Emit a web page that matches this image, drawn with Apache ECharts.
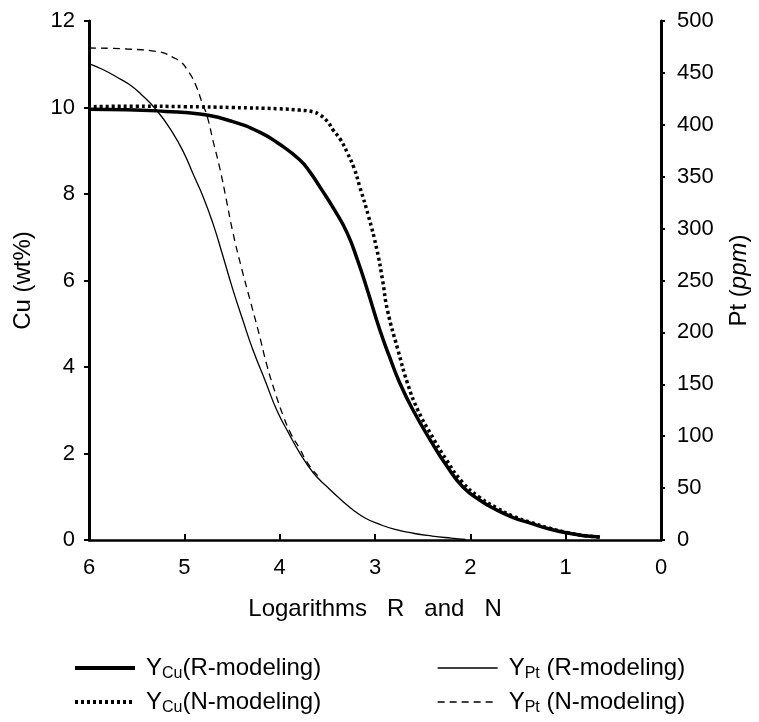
<!DOCTYPE html>
<html>
<head>
<meta charset="utf-8">
<script src="https://cdn.jsdelivr.net/npm/echarts@6/dist/echarts.min.js"></script>
<style>
html,body{margin:0;padding:0;background:#fff;}
#chart{width:759px;height:722px;}
</style>
</head>
<body>
<div id="chart"></div>
<script>
// x = logarithm R or N ; Cu in wt% (left axis) ; Pt in ppm (right axis)
var cuR = [[6.0,9.96],[5.6,9.95],[5.2,9.91],[4.84,9.85],[4.5,9.68],[4.21,9.43],[4.0,9.15],[3.79,8.79],[3.68,8.5],[3.58,8.17],[3.43,7.65],[3.29,7.09],[3.18,6.45],[3.08,5.78],[2.95,4.86],[2.85,4.25],[2.74,3.63],[2.6,3.0],[2.42,2.31],[2.25,1.72],[2.08,1.23],[1.9,0.92],[1.72,0.69],[1.55,0.52],[1.37,0.39],[1.18,0.26],[0.98,0.16],[0.8,0.1],[0.64,0.07]];
var cuN = [[5.95,10.02],[5.5,10.03],[5.0,10.02],[4.5,10.0],[4.0,9.97],[3.79,9.94],[3.65,9.9],[3.58,9.83],[3.5,9.68],[3.44,9.48],[3.36,9.25],[3.29,8.95],[3.22,8.6],[3.16,8.17],[3.07,7.5],[2.98,6.71],[2.92,6.0],[2.87,5.32],[2.76,4.4],[2.66,3.63],[2.55,3.0],[2.42,2.47],[2.25,1.85],[2.08,1.33],[1.9,0.98],[1.72,0.74],[1.55,0.55],[1.37,0.41],[1.18,0.28],[0.98,0.17],[0.8,0.1],[0.64,0.07]];
var ptR = [[6.0,459],[5.85,453],[5.71,446],[5.58,439],[5.46,430],[5.29,414],[5.12,392],[5.0,372],[4.91,353],[4.8,330],[4.7,305],[4.6,275],[4.49,241],[4.38,210],[4.28,183],[4.15,153],[4.03,125],[3.9,102],[3.79,84],[3.65,65],[3.5,51],[3.36,39],[3.23,29],[3.1,21],[2.95,15],[2.8,10.5],[2.6,6.5],[2.4,3.8],[2.2,1.8],[2.05,0.5]];
var ptN = [[6.0,474],[5.6,473],[5.25,470],[5.12,465],[5.03,460],[4.97,453],[4.92,446],[4.87,436],[4.82,423],[4.76,408],[4.7,385],[4.63,359],[4.56,328],[4.49,296],[4.4,262],[4.31,231],[4.22,200],[4.13,167],[4.04,140],[3.96,119],[3.88,102],[3.79,88],[3.72,76],[3.65,67],[3.6,62]];
var seriesNames = ['Y_Cu R', 'Y_Cu N', 'Y_Pt R', 'Y_Pt N'];
var legendLabels = {
  'Y_Cu R': '{n|Y}{s|Cu}{n|(R-modeling)}',
  'Y_Cu N': '{n|Y}{s|Cu}{n|(N-modeling)}',
  'Y_Pt R': '{n|Y}{s|Pt}{n| (R-modeling)}',
  'Y_Pt N': '{n|Y}{s|Pt}{n| (N-modeling)}'
};
var xTitle = 'Logarithms   R   and   N';
var FONT = '"Liberation Sans", Arial, sans-serif';

var chart = echarts.init(document.getElementById('chart'), null, {renderer: 'canvas'});
var rich = {
  n: {fontSize: 24, fontFamily: FONT, color: '#000', lineHeight: 28},
  s: {fontSize: 16, fontFamily: FONT, color: '#000', lineHeight: 15, verticalAlign: 'bottom', padding: [8, 0, 0, 0]}
};
function oneLegend(name, left, top, width, type) {
  return {
    orient: 'horizontal',
    left: left, top: top,
    padding: 0,
    itemWidth: 60,
    itemHeight: 14,
    itemGap: 0,
    data: [name],
    formatter: function (n) { return legendLabels[n]; },
    textStyle: {rich: rich, padding: [0, 0, 0, 6]},
    itemStyle: {opacity: 0},
    lineStyle: {width: width, type: type, color: '#000'},
    selectedMode: false
  };
}
var option = {
  animation: false,
  backgroundColor: '#fff',
  grid: {left: 89, right: 98, top: 21, bottom: 182, containLabel: false},
  xAxis: {
    type: 'value', min: 0, max: 6, interval: 1, inverse: true,
    name: xTitle, nameLocation: 'middle', nameGap: 57,
    nameTextStyle: {fontSize: 24, fontFamily: FONT, color: '#000'},
    axisLine: {onZero: false, lineStyle: {color: '#000', width: 2.5}},
    axisTick: {inside: true, length: 6, lineStyle: {color: '#000', width: 2}},
    axisLabel: {fontSize: 22, fontFamily: FONT, color: '#000', margin: 17},
    splitLine: {show: false}
  },
  yAxis: [{
    type: 'value', min: 0, max: 12, interval: 2, position: 'left',
    name: 'Cu (wt%)', nameLocation: 'middle', nameGap: 54, nameRotate: 90,
    nameTextStyle: {fontSize: 24, fontFamily: FONT, color: '#000'},
    axisLine: {show: true, onZero: false, lineStyle: {color: '#000', width: 3}},
    axisTick: {show: true, length: 5, lineStyle: {color: '#000', width: 2}},
    axisLabel: {fontSize: 22, fontFamily: FONT, color: '#000', margin: 14},
    splitLine: {show: false}
  }, {
    type: 'value', min: 0, max: 500, interval: 50, position: 'right',
    name: 'Pt ({i|ppm})', nameLocation: 'middle', nameGap: 66, nameRotate: 90,
    nameTextStyle: {fontSize: 24, fontFamily: FONT, color: '#000',
      rich: {i: {fontSize: 24, fontFamily: FONT, fontStyle: 'italic', color: '#000'}}},
    axisLine: {show: true, onZero: false, lineStyle: {color: '#000', width: 3}},
    axisTick: {show: true, length: 4, lineStyle: {color: '#000', width: 2}},
    axisLabel: {fontSize: 22, fontFamily: FONT, color: '#000', margin: 16},
    splitLine: {show: false}
  }],
  legend: [
    oneLegend('Y_Cu R', 73, 656, 4, 'solid'),
    oneLegend('Y_Cu N', 73, 690, 4, [3, 3]),
    oneLegend('Y_Pt R', 437, 656, 1.3, 'solid'),
    oneLegend('Y_Pt N', 437, 690, 1.3, [7, 5])
  ],
  series: [
    {name: seriesNames[0], type: 'line', yAxisIndex: 0, data: cuR, showSymbol: false, symbol: 'none', smooth: 0.5,
     lineStyle: {color: '#000', width: 3.5}, itemStyle: {color: '#000'}},
    {name: seriesNames[1], type: 'line', yAxisIndex: 0, data: cuN, showSymbol: false, symbol: 'none', smooth: 0.5,
     lineStyle: {color: '#000', width: 3.5, type: [3, 3]}, itemStyle: {color: '#000'}},
    {name: seriesNames[2], type: 'line', yAxisIndex: 1, data: ptR, showSymbol: false, symbol: 'none', smooth: 0.5,
     lineStyle: {color: '#000', width: 1.3}, itemStyle: {color: '#000'}},
    {name: seriesNames[3], type: 'line', yAxisIndex: 1, data: ptN, showSymbol: false, symbol: 'none', smooth: 0.5,
     lineStyle: {color: '#000', width: 1.3, type: [7, 5]}, itemStyle: {color: '#000'}}
  ]
};
chart.setOption(option);
</script>
</body>
</html>
